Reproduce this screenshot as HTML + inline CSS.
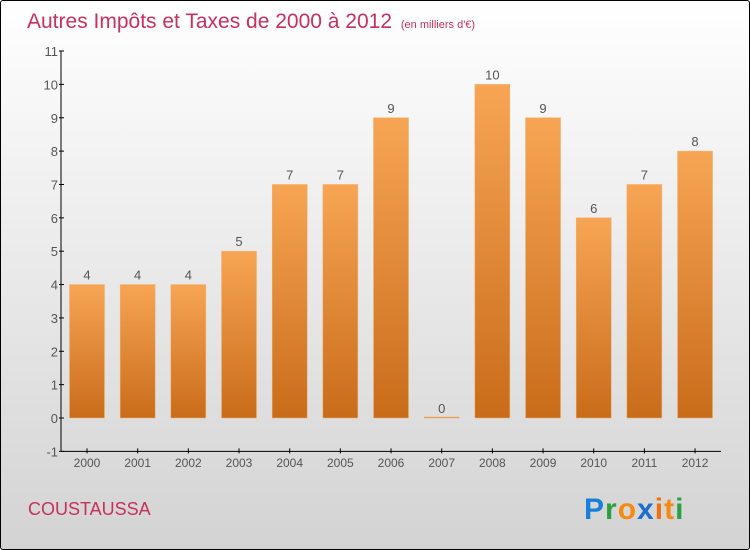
<!DOCTYPE html>
<html><head><meta charset="utf-8"><style>
body{margin:0}
#c{width:748px;height:548px;border:1px solid #000;border-radius:3px;position:relative;overflow:hidden;background:linear-gradient(#ffffff,#d3d3d3);font-family:"Liberation Sans",sans-serif}
</style></head><body>
<div id="c">
<svg id="s" width="748" height="548" xmlns="http://www.w3.org/2000/svg">
<defs><linearGradient id="g" x1="0" y1="0" x2="0" y2="1"><stop offset="0" stop-color="#f7a554"/><stop offset="1" stop-color="#c96c1a"/></linearGradient></defs>
<text x="26" y="27" font-size="21" fill="#c8305e" font-family="Liberation Sans, sans-serif">Autres Impôts et Taxes de 2000 à 2012 <tspan font-size="11" dx="3">(en milliers d'€)</tspan></text>
<text x="27" y="514" font-size="18" fill="#c8305e">COUSTAUSSA</text>
<g font-size="30" font-family="Liberation Sans, sans-serif" font-weight="bold">
<text x="583" y="518" letter-spacing="1"><tspan fill="#1a7fd8">P</tspan><tspan fill="#2aa040">r</tspan><tspan fill="#f58a10">o</tspan><tspan fill="#1a6fd0">x</tspan><tspan fill="#f07010">i</tspan><tspan fill="#f58a10">t</tspan><tspan fill="#2aa040">i</tspan></text>
</g>
<g id="plot"></g>
</svg>
</div>
<script>
const categories=["2000","2001","2002","2003","2004","2005","2006","2007","2008","2009","2010","2011","2012"];
const values=[4,4,4,5,7,7,9,0,10,9,6,7,8];
const yTicks=[-1,0,1,2,3,4,5,6,7,8,9,10,11];
const NS="http://www.w3.org/2000/svg";
const p=document.getElementById('plot');
const y=v=>417-v*33.36;
const x=i=>86+i*50.67;
function mk(t,a,txt){const e=document.createElementNS(NS,t);for(const k in a)e.setAttribute(k,a[k]);if(txt!==undefined)e.textContent=txt;p.appendChild(e);return e;}
values.forEach((v,i)=>{
const r=mk('rect',{x:x(i)-17.5,y:Math.min(y(v),y(0)-1),width:35,height:Math.max(Math.abs(y(0)-y(v)),1),fill:'url(#g)',stroke:'#f0b070','stroke-width':0.5});


const t=mk('text',{x:x(i),y:y(v)-5,'text-anchor':'middle','font-size':13,fill:'#555'},String(v));


const xt=mk('text',{x:x(i),y:466,'text-anchor':'middle','font-size':12,fill:'#555'},categories[i]);


mk('line',{x1:x(i),x2:x(i),y1:y(-1)-3,y2:y(-1)+2,stroke:'#000'});
});
yTicks.forEach(v=>{
const t=mk('text',{x:57,y:y(v)+5,'text-anchor':'end','font-size':13,fill:'#555'},String(v));


mk('line',{x1:58,x2:63,y1:y(v),y2:y(v),stroke:'#000'});
});
const ya=mk('line',{x1:60,x2:60,y1:y(11),y2:y(-1),stroke:'#000'});


const xa=mk('line',{x1:60,x2:720,y1:y(-1),y2:y(-1),stroke:'#000'});


</script>
</body></html>
